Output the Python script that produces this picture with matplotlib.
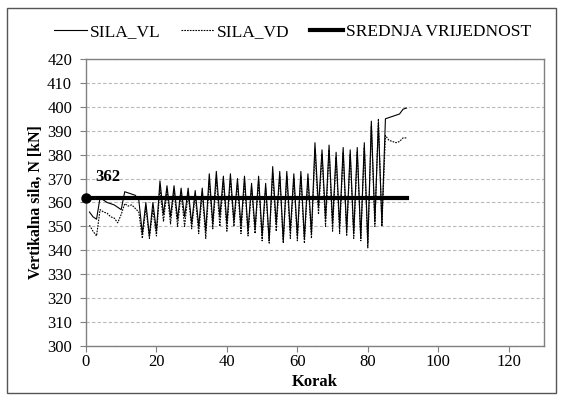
import matplotlib.pyplot as plt
from matplotlib.patches import Rectangle
import numpy as np

plt.rcParams['font.family'] = ['Liberation Serif', 'DejaVu Serif']

korak = np.arange(1, 92)

sila_vl = [356, 354, 353, 362, 361, 360, 359.5, 359, 358, 357, 364.5, 364, 363.5, 363, 361,
           347, 360, 346, 360, 348,
           369, 355, 367, 354, 367, 353, 366, 354, 366, 351, 365, 350, 366, 348, 372, 351,
           373, 354, 371, 351, 372, 352, 370,
           350, 371, 348, 368, 349, 371, 346, 368, 344, 375, 351, 373, 344, 373, 348, 372,
           346, 373, 345, 372,
           347, 385, 358, 382, 353, 384, 351, 381, 350, 383, 348, 382, 347, 383, 345, 385,
           343, 394, 352, 393, 351,
           395, 395.5, 396, 396.5, 397, 399, 399.5]

sila_vd = [350.5, 348, 346, 357, 356, 355.5, 354, 353.5, 351.5, 355, 359.5, 358.5, 359, 357.5, 356,
           345, 358, 345, 357, 346,
           366, 352, 365, 351, 365, 350, 364, 350, 364, 349, 363, 347, 364, 345, 369, 349,
           370, 350, 369, 348, 370, 350, 368,
           347, 369, 346, 366, 347, 369, 344, 366, 343, 372, 348, 371, 343, 371, 345, 370,
           344, 371, 343, 370,
           345, 382, 355, 380, 350, 382, 348, 379, 347, 381, 346, 380, 345, 381, 344, 383,
           341, 392, 350, 395, 350,
           388, 386, 385.5, 385, 385.5, 387, 387]

srednja = 362
srednja_x = [0, 91]

fig = plt.figure(figsize=(5.63, 4.01), dpi=100)
ax = fig.add_axes([0.1527, 0.1372, 0.8135, 0.7157])

ax.plot(korak, sila_vl, color='black', lw=0.8, label='SILA_VL')
ax.plot(korak, sila_vd, color='black', lw=0.8, linestyle=(0, (1.5, 1)), label='SILA_VD')
ax.plot(srednja_x, [srednja, srednja], color='black', lw=3.0, label='SREDNJA VRIJEDNOST')
ax.plot([0], [srednja], 'o', color='black', ms=6.5, clip_on=False, zorder=5)
ax.annotate(f'{srednja}', (0, srednja), xytext=(7, 9), textcoords='offset points',
            fontsize=12, fontweight='bold', ha='left', va='bottom')

ax.set_xlim(0, 130)
ax.set_ylim(300, 420)
ax.set_xticks(np.arange(0, 121, 20))
ax.set_yticks(np.arange(300, 421, 10))
ax.yaxis.grid(True, color='#b8b8b8', linestyle=(0, (3, 2)), lw=0.8)
ax.set_axisbelow(True)
for s in ax.spines.values():
    s.set_color('#808080')
    s.set_linewidth(1.0)
ax.tick_params(axis='both', direction='out', length=4, color='#808080', labelsize=12)
ax.tick_params(axis='y', pad=6)
ax.tick_params(axis='x', pad=2)

ax.set_xlabel('Korak', fontsize=12, fontweight='bold', labelpad=3)
ax.set_ylabel('Vertikalna sila, N [kN]', fontsize=11.5, fontweight='bold', labelpad=2)

fig.legend(loc='upper center', bbox_to_anchor=(0.52, 0.98), ncol=3, frameon=False,
           fontsize=12.5, handlelength=1.9, handletextpad=0.15, columnspacing=1.2)

fig.patches.append(Rectangle((7 / 563, 8 / 401), 549 / 563, 385 / 401, transform=fig.transFigure,
                             fill=False, edgecolor='#555555', lw=1.0))

fig.savefig('out.png', dpi=100)
